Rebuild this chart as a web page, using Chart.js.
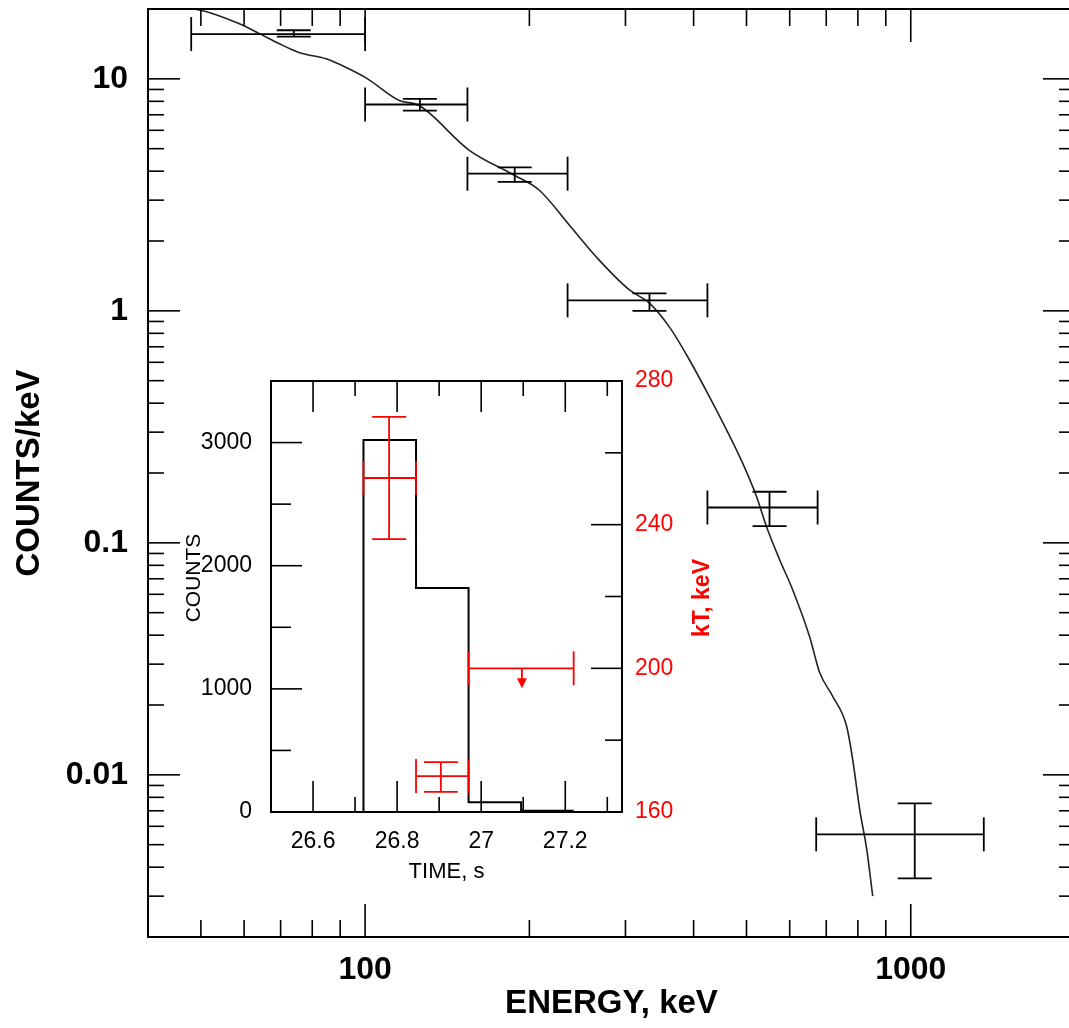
<!DOCTYPE html>
<html>
<head>
<meta charset="utf-8">
<script src="https://cdn.jsdelivr.net/npm/chart.js@4.4.1/dist/chart.umd.min.js"></script>
<style>
  html, body { margin: 0; padding: 0; background: #fff; overflow: hidden; }
  #wrap { position: relative; width: 1069px; height: 1028px; overflow: hidden; }
  #main { position: absolute; left: 0; top: 0; }
  #inset { position: absolute; left: 170px; top: 360px; }
</style>
</head>
<body>
<div id="wrap">
  <canvas id="main" width="1080" height="1028"></canvas>
  <canvas id="inset" width="560" height="540"></canvas>
</div>
<script>
// spectrum: energy bins (keV) and counts/keV with errors
const specE = [74, 126, 188, 332, 551, 1017];
const specELo = [48, 100, 154, 235, 424, 671];
const specEHi = [100, 154, 235, 424, 675, 1361];
const specY = [15.6, 7.75, 3.9, 1.11, 0.142, 0.00554];
const specYLo = [15.2, 7.3, 3.6, 1.0, 0.118, 0.00358];
const specYHi = [16.2, 8.2, 4.15, 1.19, 0.166, 0.00753];

// model curve
const modelE = [44, 50.2, 58.7, 63.9, 69.5, 75.6, 84.8, 92.3, 100.4, 115.5, 125.6, 155.2, 187.7, 208.6,
  236.8, 268.8, 305.1, 331.9, 361.3, 393.1, 427.9, 459.6, 491.7, 521.8, 544.3, 575.1, 607.5, 652.6,
  680.8, 719.4, 762.9, 782.5, 806.1, 830.4, 851.7];
const modelY = [20.5, 19.7, 17.3, 15.7, 14.2, 13.0, 12.2, 11.2, 10.1, 8.07, 7.67, 4.92, 3.84, 3.31,
  2.34, 1.65, 1.23, 1.08, 0.851, 0.614, 0.425, 0.307, 0.221, 0.158, 0.117, 0.0846, 0.0628, 0.0394,
  0.0276, 0.0218, 0.0162, 0.0117, 0.0071, 0.00478, 0.0030];

// main axis tick labels
const energyTicks = [100, 1000];
const fluxTicks = [0.01, 0.1, 1, 10];

// inset: light curve histogram
const binEdges = [26.72, 26.845, 26.97, 27.095, 27.22];
const binCounts = [3020, 1820, 80, 10];

// inset: temperature kT
const ktTime = [26.781, 26.904, 27.097];
const ktTimeLo = [26.72, 26.845, 26.97];
const ktTimeHi = [26.845, 26.97, 27.22];
const ktValue = [253, 170, 200];
const ktLo = [236, 165.6, null];
const ktHi = [270, 173.9, null];
const ktUpperLimit = [false, false, true];

// inset tick labels
const timeTicks = [26.6, 26.8, 27, 27.2];
const timeMinor = [26.7, 26.9, 27.1, 27.3];
const countTicks = [0, 1000, 2000, 3000];
const countMinor = [500, 1500, 2500];
const ktTicks = [160, 200, 240, 280];
const ktMinor = [180, 220, 260];

const FONT = "'Liberation Sans', Arial, sans-serif";
const RED = '#f00';

function line(ctx, x1, y1, x2, y2) {
  ctx.beginPath();
  ctx.moveTo(x1, y1);
  ctx.lineTo(x2, y2);
  ctx.stroke();
}

function logMinor(min, max) {
  const out = [];
  for (let d = -4; d <= 4; d++) {
    for (let m = 1; m <= 9; m++) {
      const v = m * Math.pow(10, d);
      if (v >= min * 0.999 && v <= max * 1.001) out.push(v);
    }
  }
  return out;
}

// fixed box size, no extra room asked for the edge labels
function fixBox(size) {
  return s => {
    if (s.isHorizontal()) s.height = size; else s.width = size;
    s.paddingTop = 0;
    s.paddingBottom = 0;
    s.paddingLeft = 0;
    s.paddingRight = 0;
  };
}

function vText(ctx, text, x, y, font, color) {
  ctx.save();
  ctx.fillStyle = color;
  ctx.font = font;
  ctx.textAlign = 'center';
  ctx.textBaseline = 'middle';
  ctx.translate(x, y);
  ctx.rotate(-Math.PI / 2);
  ctx.fillText(text, 0, 0);
  ctx.restore();
}

// frame + inward ticks on all four sides
const mainFrame = {
  id: 'mainFrame',
  afterDraw(chart) {
    const { ctx, chartArea: a, scales: { x, y } } = chart;
    ctx.save();
    ctx.strokeStyle = '#000';
    ctx.lineWidth = 2;
    ctx.strokeRect(a.left, a.top, a.right - a.left, a.bottom - a.top);
    ctx.lineWidth = 1.6;
    logMinor(40, 2000).forEach(v => {
      const px = x.getPixelForValue(v);
      const len = energyTicks.includes(v) ? 33 : 17;
      line(ctx, px, a.bottom, px, a.bottom - len);
      line(ctx, px, a.top, px, a.top + len);
    });
    logMinor(0.002, 20).forEach(v => {
      const py = y.getPixelForValue(v);
      const len = fluxTicks.some(t => Math.abs(t - v) < t * 1e-6) ? 32 : 16;
      line(ctx, a.left, py, a.left + len, py);
      line(ctx, a.right, py, a.right - len, py);
    });
    ctx.restore();
  }
};

const spectrumBars = {
  id: 'spectrumBars',
  afterDatasetsDraw(chart) {
    const { ctx, scales: { x, y } } = chart;
    const cap = 17;
    ctx.save();
    ctx.strokeStyle = '#000';
    ctx.lineWidth = 1.8;
    specE.forEach((e, i) => {
      const px = x.getPixelForValue(e);
      const py = y.getPixelForValue(specY[i]);
      const xl = x.getPixelForValue(specELo[i]);
      const xr = x.getPixelForValue(specEHi[i]);
      const yt = y.getPixelForValue(specYHi[i]);
      const yb = y.getPixelForValue(specYLo[i]);
      line(ctx, xl, py, xr, py);
      line(ctx, xl, py - cap, xl, py + cap);
      line(ctx, xr, py - cap, xr, py + cap);
      line(ctx, px, yt, px, yb);
      line(ctx, px - cap, yt, px + cap, yt);
      line(ctx, px - cap, yb, px + cap, yb);
    });
    ctx.restore();
  }
};

new Chart(document.getElementById('main'), {
  type: 'line',
  data: {
    datasets: [{
      data: modelE.map((e, i) => ({ x: e, y: modelY[i] })),
      borderColor: '#222',
      borderWidth: 1.6,
      pointRadius: 0,
      cubicInterpolationMode: 'monotone',
      fill: false
    }]
  },
  options: {
    responsive: false,
    animation: false,
    layout: { padding: { top: 9, right: 5, left: 0, bottom: 0 } },
    plugins: { legend: { display: false }, tooltip: { enabled: false } },
    scales: {
      x: {
        type: 'logarithmic',
        min: 40,
        max: 2000,
        afterFit: fixBox(91),
        afterBuildTicks: s => { s.ticks = energyTicks.map(v => ({ value: v })); },
        grid: { display: false, drawTicks: false },
        border: { display: false },
        ticks: {
          padding: 14, color: '#000', autoSkip: false, maxRotation: 0,
          font: { family: FONT, size: 32, weight: 'bold' },
          callback: v => String(v)
        },
        title: {
          display: true, text: 'ENERGY, keV', color: '#000',
          font: { family: FONT, size: 33, weight: 'bold' },
          padding: { top: 0, bottom: 4 }
        }
      },
      y: {
        type: 'logarithmic',
        min: 0.002,
        max: 20,
        afterFit: fixBox(148),
        afterBuildTicks: s => { s.ticks = fluxTicks.map(v => ({ value: v })); },
        grid: { display: false, drawTicks: false },
        border: { display: false },
        ticks: {
          padding: 20, color: '#000', autoSkip: false,
          font: { family: FONT, size: 32, weight: 'bold' },
          callback: v => String(v)
        },
        title: {
          display: true, text: 'COUNTS/keV', color: '#000',
          font: { family: FONT, size: 33, weight: 'bold' },
          padding: { top: 10, bottom: 0 }
        }
      }
    }
  },
  plugins: [spectrumBars, mainFrame]
});

// ---- inset ----
const insetFrame = {
  id: 'insetFrame',
  afterDraw(chart) {
    const { ctx, chartArea: a, scales: { x, y, y2 } } = chart;
    ctx.save();
    ctx.strokeStyle = '#000';
    ctx.lineWidth = 2;
    ctx.strokeRect(a.left, a.top, a.right - a.left, a.bottom - a.top);
    ctx.lineWidth = 1.6;
    timeTicks.concat(timeMinor).forEach(v => {
      const px = x.getPixelForValue(v);
      const len = timeTicks.includes(v) ? 31 : 15;
      line(ctx, px, a.bottom, px, a.bottom - len);
      line(ctx, px, a.top, px, a.top + len);
    });
    countTicks.concat(countMinor).forEach(v => {
      const py = y.getPixelForValue(v);
      const len = countTicks.includes(v) ? 31 : 20;
      line(ctx, a.left, py, a.left + len, py);
    });
    ktTicks.concat(ktMinor).forEach(v => {
      const py = y2.getPixelForValue(v);
      const len = ktTicks.includes(v) ? 31 : 17;
      line(ctx, a.right, py, a.right - len, py);
    });
    ctx.restore();
    // axis titles, both reading bottom to top
    vText(ctx, 'COUNTS', 24, 218, '21px ' + FONT, '#000');
    vText(ctx, 'kT, keV', 533, 238, 'bold 23px ' + FONT, RED);
  }
};

const ktBars = {
  id: 'ktBars',
  afterDatasetsDraw(chart) {
    const { ctx, scales: { x, y2 } } = chart;
    const cap = 17;
    ctx.save();
    ctx.strokeStyle = RED;
    ctx.fillStyle = RED;
    ctx.lineWidth = 1.8;
    ktTime.forEach((t, i) => {
      const px = x.getPixelForValue(t);
      const py = y2.getPixelForValue(ktValue[i]);
      const xl = x.getPixelForValue(ktTimeLo[i]);
      const xr = x.getPixelForValue(ktTimeHi[i]);
      line(ctx, xl, py, xr, py);
      line(ctx, xl, py - cap, xl, py + cap);
      line(ctx, xr, py - cap, xr, py + cap);
      if (ktUpperLimit[i]) {
        line(ctx, px, py, px, py + 12);
        ctx.beginPath();
        ctx.moveTo(px - 5, py + 10);
        ctx.lineTo(px + 5, py + 10);
        ctx.lineTo(px, py + 20);
        ctx.closePath();
        ctx.fill();
      } else {
        const yt = y2.getPixelForValue(ktHi[i]);
        const yb = y2.getPixelForValue(ktLo[i]);
        line(ctx, px, yt, px, yb);
        line(ctx, px - cap, yt, px + cap, yt);
        line(ctx, px - cap, yb, px + cap, yb);
      }
    });
    ctx.restore();
  }
};

const histPoints = [{ x: binEdges[0], y: 0 }]
  .concat(binCounts.map((c, i) => ({ x: binEdges[i], y: c })))
  .concat([{ x: binEdges[binEdges.length - 1], y: binCounts[binCounts.length - 1] }]);

new Chart(document.getElementById('inset'), {
  type: 'line',
  data: {
    datasets: [{
      data: histPoints,
      stepped: 'before',
      borderColor: '#000',
      borderWidth: 2,
      pointRadius: 0,
      fill: false,
      yAxisID: 'y'
    }]
  },
  options: {
    responsive: false,
    animation: false,
    layout: { padding: { top: 21, left: 0, right: 0, bottom: 0 } },
    plugins: { legend: { display: false }, tooltip: { enabled: false } },
    scales: {
      x: {
        type: 'linear',
        min: 26.5,
        max: 27.335,
        afterFit: fixBox(88),
        afterBuildTicks: s => { s.ticks = timeTicks.map(v => ({ value: v })); },
        grid: { display: false, drawTicks: false },
        border: { display: false },
        ticks: {
          padding: 16, color: '#000', autoSkip: false, maxRotation: 0,
          font: { family: FONT, size: 23 },
          callback: v => String(v)
        },
        title: {
          display: true, text: 'TIME, s', color: '#000',
          font: { family: FONT, size: 22 },
          padding: { top: 0, bottom: 15 }
        }
      },
      y: {
        position: 'left',
        min: 0,
        max: 3500,
        afterFit: fixBox(101),
        afterBuildTicks: s => { s.ticks = countTicks.map(v => ({ value: v })); },
        grid: { display: false, drawTicks: false },
        border: { display: false },
        ticks: {
          padding: 19, color: '#000', autoSkip: false,
          font: { family: FONT, size: 23 },
          callback: v => String(v)
        }
      },
      y2: {
        position: 'right',
        min: 160,
        max: 280,
        afterFit: fixBox(108),
        afterBuildTicks: s => { s.ticks = ktTicks.map(v => ({ value: v })); },
        grid: { display: false, drawTicks: false },
        border: { display: false },
        ticks: {
          padding: 13, color: RED, autoSkip: false,
          font: { family: FONT, size: 23 },
          callback: v => String(v)
        }
      }
    }
  },
  plugins: [ktBars, insetFrame]
});
</script>
</body>
</html>
